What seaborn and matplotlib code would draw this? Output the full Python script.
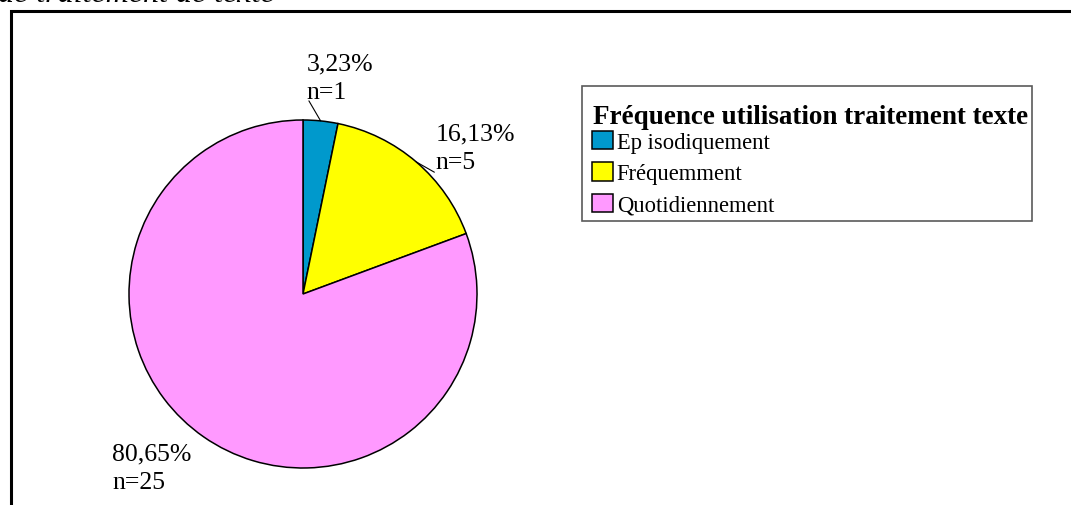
import numpy as np
import seaborn as sns
import matplotlib.pyplot as plt
from matplotlib.patches import Rectangle

categories = ["Ep isodiquement", "Fréquemment", "Quotidiennement"]
counts = [1, 5, 25]
pct_labels = ["3,23%", "16,13%", "80,65%"]
legend_title = "Fréquence utilisation traitement texte"
colors = sns.color_palette(["#0099CC", "#FFFF00", "#FF99FF"])

sns.set_style("white")
plt.rcParams["font.family"] = ["Liberation Serif", "DejaVu Serif"]
plt.rcParams["text.color"] = "black"

fig = plt.figure(figsize=(10.71, 5.06), dpi=100)

# pie axes: center (303, 295) px, radius ~174 px
W, H = 1071, 506
cx, cy, r = 303, 295, 174
ax = fig.add_axes([(cx - r) / W, (H - cy - r) / H, 2 * r / W, 2 * r / H])
wedges, _ = ax.pie(counts, colors=colors, startangle=90, counterclock=False,
                   radius=1.0, wedgeprops=dict(edgecolor="black", linewidth=1.1))
ax.set_xlim(-1, 1)
ax.set_ylim(-1, 1)
ax.set_aspect("equal")
ax.axis("off")

# label placement (data units of the pie axes)
label_pos = [(0.02, 1.245), (0.76, 0.84), (-1.095, -1.0)]
leader_end = [(0.034, 1.11), (0.755, 0.70), None]
for w, n, pct, pos, end in zip(wedges, counts, pct_labels, label_pos, leader_end):
    mid = np.deg2rad((w.theta1 + w.theta2) / 2)
    ax.text(pos[0], pos[1], f"{pct}\nn={n}", ha="left", va="center",
            fontsize=18.5, linespacing=1.38, color="black", clip_on=False)
    if end is not None:
        ax.plot([np.cos(mid), end[0]], [np.sin(mid), end[1]], color="black",
                lw=0.8, clip_on=False)

# legend box, title and entries
fig.patches.append(Rectangle((582 / W, 1 - 222 / H), 450 / W, 135 / H,
                             transform=fig.transFigure, fill=False,
                             edgecolor="#5a5a5a", linewidth=1.2))
fig.text(593 / W, 1 - 124 / H, legend_title, fontsize=19.5, weight="bold",
         ha="left", va="baseline", color="black")
leg = fig.legend(wedges, categories, loc="upper left",
                 bbox_to_anchor=(592 / W, 1 - 132 / H),
                 fontsize=16.3, frameon=False, borderpad=0,
                 handlelength=0.92, handleheight=0.86,
                 handletextpad=0.18, labelspacing=0.42, borderaxespad=0)
for t in leg.get_texts():
    t.set_color("black")
for h in leg.legend_handles:
    h.set_edgecolor("black")

# outer frame (cut off at right and bottom)
fig.patches.append(Rectangle((10.5 / W, -0.1), 1.2, 1 - 12 / H + 0.1,
                             transform=fig.transFigure, fill=False,
                             edgecolor="black", linewidth=2.2, clip_on=False))

# clipped caption line at the top
fig.text(-2 / W, 1 - 1.5 / H, "de traitement de texte", fontsize=23,
         style="italic", ha="left", va="baseline", color="black")

fig.savefig("out.png", dpi=100)
